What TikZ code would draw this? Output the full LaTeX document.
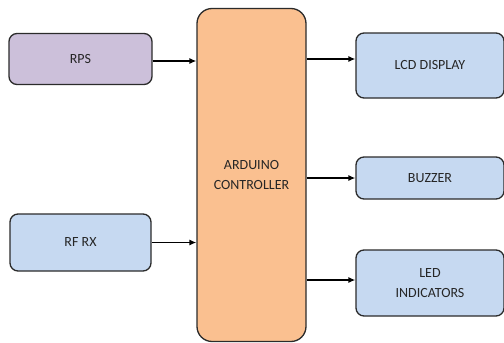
\documentclass[tikz,border=0pt]{standalone}
\usepackage{fontspec}
\setmainfont{Carlito}
\usetikzlibrary{arrows.meta}
\definecolor{purp}{HTML}{CCC0DA}
\definecolor{blu}{HTML}{C6D9F1}
\definecolor{org}{HTML}{FAC090}
\definecolor{edge}{HTML}{2B2B2B}
\tikzset{
  blk/.style={draw=edge, line width=1.3pt, rounded corners=8pt, align=center, inner sep=0pt,
    font=\fontsize{14}{20}\selectfont, text=black!85},
  conn/.style={draw=black, line width=1.3pt, -{Latex[length=7pt,width=6pt]}}
}
\begin{document}
\begin{tikzpicture}[x=1pt,y=-1pt]
\useasboundingbox (0,0) rectangle (504,343);
\node[blk, fill=purp, minimum width=143pt, minimum height=51pt] (rps) at (80.5,59) {RPS};
\node[blk, fill=blu, minimum width=141pt, minimum height=57pt] (rf) at (80.5,242.5) {RF RX};
\node[blk, fill=org, rounded corners=15pt, minimum width=109pt, minimum height=333pt] (ctrl) at (251.5,175) {ARDUINO\\CONTROLLER};
\node[blk, fill=blu, minimum width=148pt, minimum height=65pt] (lcd) at (430,65.5) {LCD DISPLAY};
\node[blk, fill=blu, minimum width=148pt, minimum height=42pt] (buz) at (430,178) {BUZZER};
\node[blk, fill=blu, minimum width=148pt, minimum height=66pt] (led) at (430,283) {LED\\INDICATORS};
\coordinate (a1) at ([yshift=-2pt]rps.east);
\draw[conn] (a1) -- (a1 -| ctrl.west);
\draw[conn] (rf.east) -- (rf.east -| ctrl.west);
\coordinate (b1) at ([yshift=6.5pt]lcd.west);
\draw[conn] (b1 -| ctrl.east) -- (b1);
\draw[conn] (buz.west -| ctrl.east) -- (buz.west);
\coordinate (b3) at ([yshift=3pt]led.west);
\draw[conn] (b3 -| ctrl.east) -- (b3);
\end{tikzpicture}
\end{document}
